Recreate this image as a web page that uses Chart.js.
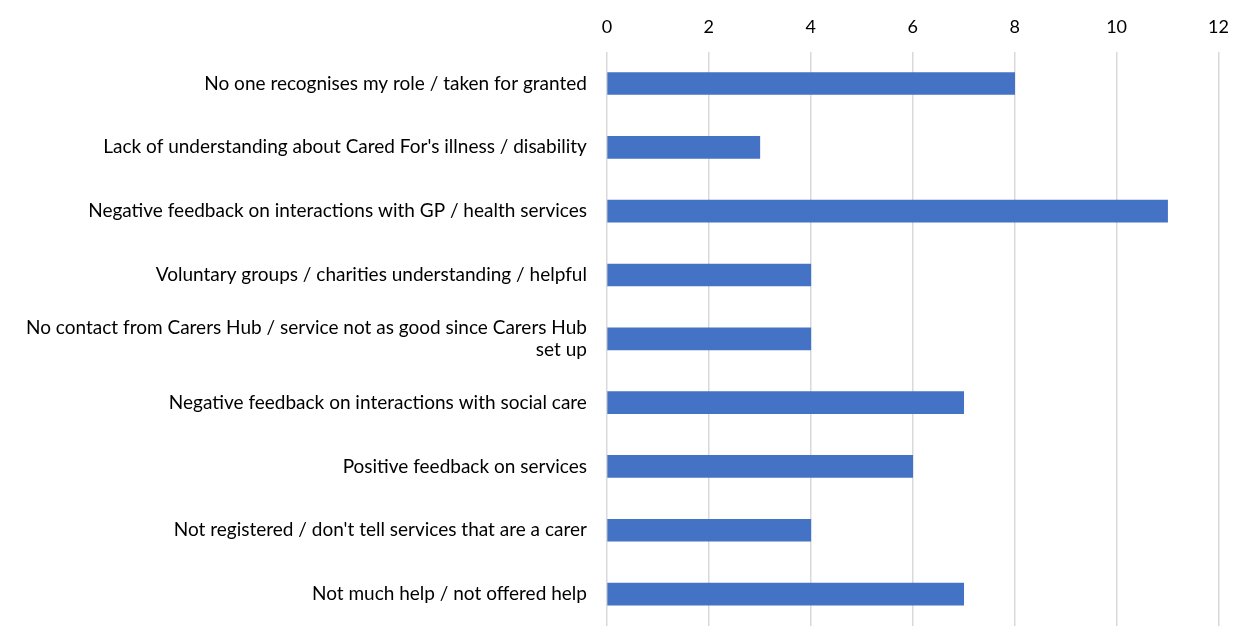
<!DOCTYPE html>
<html>
<head>
<meta charset="utf-8">
<script src="https://cdn.jsdelivr.net/npm/chart.js@4"></script>
<style>
  html, body { margin: 0; padding: 0; background: #fff; }
  #wrap { width: 1243px; height: 626px; }
</style>
</head>
<body>
<div id="wrap"><canvas id="chart"></canvas></div>
<script>
// Categories and counts
const categories = [
    'No one recognises my role / taken for granted',
    "Lack of understanding about Cared For's illness / disability",
    'Negative feedback on interactions with GP / health services',
    'Voluntary groups / charities understanding / helpful',
    ['No contact from Carers Hub / service not as good since Carers Hub', 'set up'],
    'Negative feedback on interactions with social care',
    'Positive feedback on services',
    "Not registered / don't tell services that are a carer",
    'Not much help / not offered help'
];
const counts = [8, 3, 11, 4, 4, 7, 6, 4, 7];
const axisMin = 0;
const axisMax = 12;
const axisStep = 2;

const ctx = document.getElementById('chart').getContext('2d');

new Chart(ctx, {
    type: 'bar',
    data: {
        labels: categories,
        datasets: [{
            data: counts,
            backgroundColor: '#4472C4',
            borderWidth: 0,
            barThickness: 22
        }]
    },
    options: {
        indexAxis: 'y',
        responsive: true,
        maintainAspectRatio: false,
        animation: false,
        layout: { padding: { left: 6, right: 12, top: 2, bottom: 0 } },
        plugins: {
            legend: { display: false },
            tooltip: { enabled: false }
        },
        scales: {
            x: {
                position: 'top',
                min: axisMin,
                max: axisMax,
                ticks: {
                    stepSize: axisStep,
                    color: '#000',
                    padding: 14,
                    font: { family: 'Lato', size: 18 }
                },
                grid: { color: '#d9d9d9', lineWidth: 1.5, drawTicks: false },
                border: { display: false }
            },
            y: {
                ticks: {
                    color: '#000',
                    padding: 20,
                    font: { family: 'Lato', size: 19 }
                },
                grid: { display: false, drawTicks: false },
                border: { display: false },
                // let the plot run to the bottom edge like the reference
                afterFit: function(scale) {
                    scale.paddingTop = 0;
                    scale.paddingBottom = 0;
                }
            }
        }
    }
});
</script>
</body>
</html>
